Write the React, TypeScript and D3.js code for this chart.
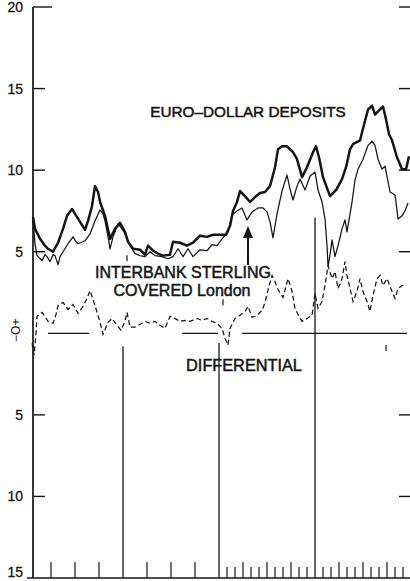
import React, { useEffect, useRef } from 'react';
import * as d3 from 'd3';

// time in months from Jan 1971, rates in per cent
const euroMonths = [0.75, 1.0, 1.63, 2.25, 2.63, 3.25, 3.88, 4.5, 5.0, 5.63, 6.0, 6.63, 7.25, 7.63, 8.13, 8.5, 8.88, 9.13, 9.75, 10.38, 11.0, 11.63, 12.25, 12.63, 13.25, 14.13, 14.75, 15.13, 15.75, 16.38, 17.0, 17.88, 18.25, 19.13, 20.0, 20.75, 21.63, 22.5, 23.25, 24.13, 24.88, 25.38, 25.75, 26.25, 26.63, 27.25, 27.88, 28.5, 29.13, 29.75, 30.38, 31.0, 31.38, 31.88, 32.5, 32.88, 33.25, 33.75, 34.38, 35.0, 35.75, 36.13, 36.5, 37.0, 37.88, 38.63, 39.38, 39.88, 40.38, 40.75, 41.63, 42.13, 42.63, 43.13, 43.5, 44.0, 44.5, 44.88, 45.25, 45.63, 46.25, 46.88, 47.38, 47.75];
const euroRates = [7.13, 6.4, 5.79, 5.37, 5.18, 5.0, 5.55, 6.4, 7.2, 7.62, 7.32, 6.83, 6.34, 6.89, 7.8, 9.02, 8.66, 8.05, 7.2, 5.79, 6.4, 6.77, 6.22, 5.61, 5.18, 5.12, 4.82, 5.37, 5.06, 4.88, 4.76, 4.82, 5.61, 5.55, 5.37, 5.55, 5.98, 5.91, 6.04, 6.04, 6.04, 6.59, 7.5, 8.05, 8.72, 8.41, 8.05, 8.35, 8.6, 8.66, 9.02, 10.18, 11.28, 11.46, 11.46, 11.28, 11.1, 10.67, 9.57, 10.18, 11.1, 11.46, 10.79, 9.57, 8.41, 8.78, 9.45, 10.18, 11.28, 11.59, 11.83, 12.8, 13.72, 13.96, 13.41, 13.66, 13.9, 13.11, 12.2, 11.83, 10.79, 10.06, 10.06, 10.85];

const sterlingMonths = [0.75, 1.0, 1.25, 1.88, 2.25, 2.5, 2.88, 3.25, 3.5, 3.88, 4.13, 4.5, 5.13, 5.75, 6.13, 6.38, 7.25, 7.88, 8.5, 9.13, 9.5, 9.75, 10.13, 10.38, 10.75, 11.0, 11.38, 11.88, 12.25, 12.88, 13.5, 14.13, 14.75, 15.38, 16.0, 16.88, 17.63, 18.25, 18.88, 19.5, 20.13, 20.75, 21.63, 22.5, 23.13, 23.75, 24.38, 25.13, 25.38, 25.63, 26.25, 26.88, 27.5, 28.13, 28.88, 29.5, 30.0, 30.38, 30.75, 31.25, 31.88, 32.5, 32.88, 33.25, 33.75, 34.13, 34.75, 35.38, 36.0, 36.38, 36.88, 37.25, 37.5, 37.63, 37.88, 38.13, 38.5, 38.88, 39.38, 39.75, 40.0, 40.63, 41.0, 41.38, 42.0, 42.63, 43.13, 43.5, 43.88, 44.38, 44.75, 45.38, 46.0, 46.38, 46.88, 47.25, 47.63];
const sterlingRates = [7.01, 5.49, 4.76, 4.45, 4.82, 4.7, 4.39, 4.82, 4.76, 4.21, 4.7, 5.0, 5.49, 5.91, 5.61, 5.49, 5.67, 6.1, 6.89, 7.56, 7.32, 6.89, 5.91, 5.18, 5.91, 6.22, 6.71, 6.4, 6.1, 5.37, 4.88, 4.76, 4.7, 5.0, 4.76, 4.7, 4.57, 4.7, 5.18, 4.7, 5.18, 4.7, 5.12, 5.06, 5.43, 5.37, 5.79, 6.22, 6.71, 7.26, 7.5, 7.68, 6.95, 7.44, 7.68, 7.68, 7.44, 6.83, 5.85, 7.32, 8.72, 9.7, 8.84, 8.17, 9.02, 9.45, 8.78, 9.63, 9.88, 8.78, 8.05, 7.01, 5.37, 4.09, 4.82, 5.73, 4.7, 5.37, 6.4, 6.95, 6.22, 8.05, 9.39, 10.06, 10.67, 11.52, 11.77, 11.52, 10.67, 10.06, 10.24, 8.66, 8.48, 7.01, 7.2, 7.5, 7.99];

const diffMonths = [0.63, 0.88, 1.13, 1.25, 1.88, 2.25, 2.63, 3.25, 3.63, 3.88, 4.5, 5.13, 5.75, 6.38, 7.0, 7.5, 7.88, 8.5, 9.13, 9.5, 10.13, 10.63, 11.25, 11.75, 12.25, 12.5, 12.88, 13.5, 14.13, 14.75, 15.38, 16.0, 16.63, 17.25, 17.88, 18.5, 19.13, 19.75, 20.38, 21.25, 21.88, 22.5, 23.13, 23.75, 24.38, 24.75, 25.13, 25.38, 26.0, 26.63, 27.25, 27.63, 28.13, 28.75, 29.38, 29.75, 30.13, 30.63, 31.0, 31.38, 32.0, 32.63, 33.13, 33.5, 34.0, 34.38, 35.0, 35.63, 36.0, 36.38, 36.88, 37.25, 37.63, 38.13, 38.5, 38.88, 39.38, 39.75, 40.0, 40.38, 40.75, 41.25, 41.63, 42.0, 42.5, 42.88, 43.25, 43.75, 44.13, 44.5, 45.0, 45.63, 46.0, 46.38, 46.88, 47.25];
const diffRates = [-0.61, -1.34, 0, 1.04, 1.28, 1.04, 0.73, 0.61, 1.16, 1.71, 1.89, 1.46, 1.77, 1.22, 1.65, 2.13, 2.62, 1.71, 0.67, -0.06, 0.67, 0.91, 0.49, 0.18, 0.73, 1.28, 0.37, 0.37, 0.55, 0.73, 0.61, 0.73, 0.49, 0.3, 1.04, 0.91, 0.73, 0.79, 0.73, 0.91, 0.79, 0.91, 0.73, 0.61, 0.3, -0.3, -0.73, 0.3, 0.91, 1.1, 1.34, 1.65, 0.98, 1.1, 1.4, 1.89, 2.68, 3.54, 3.17, 2.68, 2.2, 3.35, 2.56, 1.52, 1.04, 0.73, 0.91, 1.1, 2.44, 1.52, 1.95, 2.93, 4.15, 3.35, 3.78, 2.74, 3.35, 4.39, 3.54, 2.74, 1.95, 2.56, 3.35, 2.56, 1.95, 1.34, 2.32, 3.35, 3.54, 2.93, 3.35, 2.56, 2.13, 2.74, 2.93, 2.87];

const leftTicks = [20, 15, 10, 5, -5, -10, -15];
const leftLabels = ['20', '15', '10', '5', '5', '10', '15'];
const rightTicks = [20, 15, 10, 5, -5, -10];
const yearEnds = [12, 24, 36];
const yearLineTops = [-0.8, -0.6, 7.1];
// pieces of the zero line that survive in the print, in months
const zeroSpanStarts = [2.63, 19.38, 26.88];
const zeroSpanEnds = [7.75, 23.88, 47.5];
// little stray year marks: month, value
const markMonths = [12.5, 24.5, 44.88];
const markValues = [4.6, 1.9, -0.9];

const W = 410, H = 581;
const ink = '#151515';
const font = 'Liberation Sans, Arial, sans-serif';

function App() {
  const ref = useRef<SVGSVGElement>(null);

  useEffect(() => {
    const svg = d3.select(ref.current);
    svg.selectAll('*').remove();

    const x = d3.scaleLinear().domain([0, 48]).range([27, 411]);
    const y = d3.scaleLinear().domain([-15, 20]).range([578, 7]);
    const axisX = 33;

    const g = svg.append('g');

    // left axis
    g.append('line').attr('x1', axisX).attr('x2', axisX).attr('y1', y(20)).attr('y2', y(-15))
      .attr('stroke', ink).attr('stroke-width', 1.7);
    g.selectAll('.lt').data(leftTicks.filter(d => d > -15)).enter().append('line')
      .attr('x1', axisX).attr('x2', d => d === 20 ? axisX + 19 : axisX + 12)
      .attr('y1', d => y(d)).attr('y2', d => y(d))
      .attr('stroke', ink).attr('stroke-width', 1.4);
    g.selectAll('.ll').data(leftTicks).enter().append('text')
      .attr('x', 23).attr('y', d => d === -15 ? y(d) - 1 : y(d) + 5)
      .attr('text-anchor', 'end')
      .attr('font-family', font)
      .attr('font-size', 14).attr('fill', ink)
      .attr('stroke', ink).attr('stroke-width', 0.3)
      .text((d, i) => leftLabels[i]);
    g.append('text')
      .attr('transform', `translate(20,${y(0) - 3}) rotate(-90)`)
      .attr('text-anchor', 'middle')
      .attr('font-family', font)
      .attr('font-size', 12).attr('fill', ink)
      .text('\u2212O+');

    // right ticks
    g.selectAll('.rt').data(rightTicks).enter().append('line')
      .attr('x1', 399).attr('x2', 410)
      .attr('y1', d => y(d)).attr('y2', d => y(d))
      .attr('stroke', ink).attr('stroke-width', 1.4);

    // zero line
    g.selectAll('.zl').data(zeroSpanStarts).enter().append('line')
      .attr('x1', d => x(d)).attr('x2', (d, i) => x(zeroSpanEnds[i]))
      .attr('y1', y(0)).attr('y2', y(0))
      .attr('stroke', ink).attr('stroke-width', 1.3);

    // bottom axis
    g.append('line').attr('x1', 27).attr('x2', 410).attr('y1', y(-15)).attr('y2', y(-15))
      .attr('stroke', ink).attr('stroke-width', 1.7);
    const ticks = d3.range(1, 48).filter(m => m < 24 ? m % 3 === 0 : true).filter(m => m % 12 !== 0);
    g.selectAll('.bt').data(ticks).enter().append('line')
      .attr('x1', d => x(d)).attr('x2', d => x(d))
      .attr('y1', y(-15)).attr('y2', d => d % 3 === 0 ? y(-15) - 16 : y(-15) - 11)
      .attr('stroke', ink).attr('stroke-width', 1.2);
    g.selectAll('.yl').data(yearEnds).enter().append('line')
      .attr('x1', d => x(d)).attr('x2', d => x(d))
      .attr('y1', (d, i) => y(yearLineTops[i])).attr('y2', y(-15))
      .attr('stroke', ink).attr('stroke-width', 1.3);
    g.selectAll('.mk').data(markMonths).enter().append('line')
      .attr('x1', d => x(d)).attr('x2', d => x(d))
      .attr('y1', (d, i) => y(markValues[i]) - 3).attr('y2', (d, i) => y(markValues[i]) + 3)
      .attr('stroke', ink).attr('stroke-width', 1.2);

    // series
    const line = (months: number[]) => d3.line<number>()
      .x((d, i) => x(months[i])).y(d => y(d));

    g.append('path').attr('d', line(sterlingMonths)(sterlingRates))
      .attr('fill', 'none').attr('stroke', ink).attr('stroke-width', 1.25)
      .attr('stroke-linejoin', 'round');
    g.append('path').attr('d', line(euroMonths)(euroRates))
      .attr('fill', 'none').attr('stroke', ink).attr('stroke-width', 2.5)
      .attr('stroke-linejoin', 'round');
    g.append('path').attr('d', line(diffMonths)(diffRates))
      .attr('fill', 'none').attr('stroke', ink).attr('stroke-width', 1.25)
      .attr('stroke-dasharray', '5,3');

    // labels
    const label = (tx: number, ty: number, t: string, size: number) =>
      g.append('text').attr('x', tx).attr('y', ty)
        .attr('text-anchor', 'middle')
        .attr('font-family', font)
        .attr('font-size', size).attr('fill', ink)
        .attr('stroke', ink).attr('stroke-width', 0.5)
        .text(t);
    label(248, 117, 'EURO\u2013DOLLAR DEPOSITS', 15.3);
    label(183, 278, 'INTERBANK STERLING', 16);
    label(182, 296, 'COVERED London', 16);
    label(244, 371, 'DIFFERENTIAL', 16.3);

    // arrow
    g.append('line').attr('x1', 248).attr('x2', 248).attr('y1', 265).attr('y2', 236)
      .attr('stroke', ink).attr('stroke-width', 2);
    g.append('path').attr('d', 'M243,238 L248,226 L253,238 Z').attr('fill', ink);
  }, []);

  return (
    <svg ref={ref} width={W} height={H}
      style={{ position: 'absolute', left: 0, top: 0, background: '#fff' }} />
  );
}

export default App;
